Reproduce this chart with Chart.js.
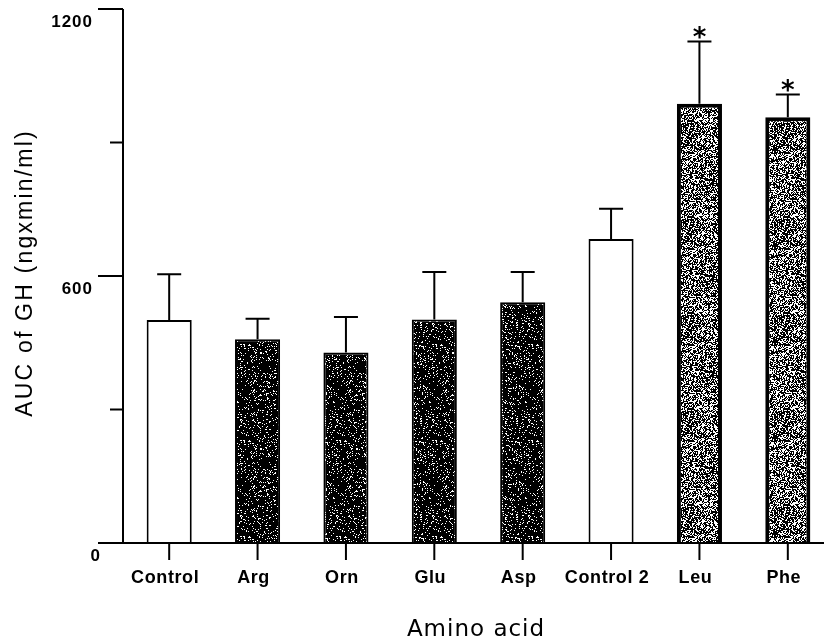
<!DOCTYPE html>
<html>
<head>
<meta charset="utf-8">
<title>AUC of GH by amino acid</title>
<script src="https://cdn.jsdelivr.net/npm/chart.js@4"></script>
<style>
  html, body { margin: 0; padding: 0; background: #fff; overflow: hidden; }
  #wrap { width: 824px; height: 640px; overflow: hidden; }
  canvas { display: block; }
</style>
</head>
<body>
<div id="wrap"><canvas id="aucChart" width="844" height="640"></canvas></div>
<script>
// --- Data ---
const categories = ['Control', 'Arg', 'Orn', 'Glu', 'Asp', 'Control 2', 'Leu', 'Phe'];
const aucMeans = [501, 458, 428, 502, 541, 683, 987, 957];
const aucErrors = [103, 46, 80, 107, 68, 68, 140, 51];
const significant = [false, false, false, false, false, false, true, true];
const yTicks = [0, 300, 600, 900, 1200];
const yTickLabels = ['0', '', '600', '', '1200'];

// --- Speckled fills (deterministic noise so every render looks the same) ---
function makeSpeckle(whiteShare, seed) {
    const size = 96;
    const c = document.createElement('canvas');
    c.width = size; c.height = size;
    const g = c.getContext('2d');
    g.fillStyle = '#000';
    g.fillRect(0, 0, size, size);
    g.fillStyle = '#fff';
    let s = seed;
    const next = () => { s = (s * 1103515245 + 12345) & 0x7fffffff; return s / 0x7fffffff; };
    for (let y = 0; y < size; y++) {
        for (let x = 0; x < size; x++) {
            if (next() < whiteShare) g.fillRect(x, y, 1, 1);
        }
    }
    return g.createPattern(c, 'repeat');
}
const darkFill = makeSpeckle(0.12, 7);
const lightFill = makeSpeckle(0.42, 19);

const fills = categories.map((name, i) => {
    if (name.startsWith('Control')) return '#ffffff';
    return significant[i] ? lightFill : darkFill;
});
const borders = categories.map((name, i) => significant[i] ? 4 : 2);

// --- Axes, error bars and labels drawn over the plot ---
const paperAxes = {
    id: 'paperAxes',
    afterDatasetsDraw(chart) {
        const { ctx, chartArea, scales } = chart;
        const x = scales.x, y = scales.y;
        const axisX = chartArea.left - 2;
        ctx.save();
        ctx.strokeStyle = '#000';
        ctx.fillStyle = '#000';
        ctx.lineWidth = 2;

        // y axis line
        ctx.beginPath();
        ctx.moveTo(axisX, y.getPixelForValue(1200));
        ctx.lineTo(axisX, y.getPixelForValue(0));
        ctx.stroke();

        // y ticks: long where labelled, short otherwise
        ctx.font = 'bold 17px "Liberation Sans", Arial, sans-serif';
        ctx.letterSpacing = '1px';
        ctx.textAlign = 'right';
        ctx.textBaseline = 'middle';
        yTicks.forEach((v, i) => {
            const py = y.getPixelForValue(v);
            const len = yTickLabels[i] ? 25 : 13;
            ctx.beginPath();
            ctx.moveTo(axisX - len, py);
            ctx.lineTo(axisX, py);
            ctx.stroke();
            if (!yTickLabels[i]) return;
            const lx = v === 0 ? axisX - 22 : axisX - 30;
            ctx.fillText(yTickLabels[i], lx, py + 13);
        });

        // x axis line
        const base = y.getPixelForValue(0);
        ctx.beginPath();
        ctx.moveTo(axisX, base);
        ctx.lineTo(chart.width, base);
        ctx.stroke();

        // category ticks and labels (labels sit a little left of the tick)
        ctx.font = 'bold 18px "Liberation Sans", Arial, sans-serif';
        ctx.letterSpacing = '0.6px';
        ctx.textAlign = 'center';
        categories.forEach((name, i) => {
            const px = x.getPixelForValue(i);
            ctx.beginPath();
            ctx.moveTo(px, base);
            ctx.lineTo(px, base + 17);
            ctx.stroke();
            ctx.fillText(name, px - 4, base + 35);
        });

        // error bars (upper half only) and significance marks
        ctx.lineWidth = 2;
        aucMeans.forEach((m, i) => {
            const px = x.getPixelForValue(i);
            const top = y.getPixelForValue(m + aucErrors[i]);
            ctx.beginPath();
            ctx.moveTo(px, y.getPixelForValue(m));
            ctx.lineTo(px, top);
            ctx.moveTo(px - 12, top);
            ctx.lineTo(px + 12, top);
            ctx.stroke();
            if (significant[i]) {
                ctx.font = 'bold 26px "DejaVu Sans", sans-serif';
                ctx.letterSpacing = '0px';
                ctx.textBaseline = 'alphabetic';
                ctx.fillText('*', px, top + 5);
            }
        });

        // axis titles
        ctx.letterSpacing = '1px';
        ctx.textBaseline = 'alphabetic';
        ctx.font = '23px "DejaVu Sans", sans-serif';
        ctx.fillText('Amino acid', 476, 636);

        ctx.translate(26, 273);
        ctx.rotate(-Math.PI / 2);
        ctx.textBaseline = 'middle';
        ctx.font = '23px "Liberation Sans", Arial, sans-serif';
        ctx.letterSpacing = '2.2px';
        ctx.fillText('AUC of GH (ngxmin/ml)', 0, 0);
        ctx.restore();
    }
};

// --- Chart ---
const ctx = document.getElementById('aucChart').getContext('2d');
const aucChart = new Chart(ctx, {
    type: 'bar',
    data: {
        labels: categories,
        datasets: [{
            data: aucMeans,
            backgroundColor: fills,
            borderColor: '#000',
            borderWidth: borders,
            borderSkipped: 'bottom',
            barPercentage: 0.51,
            categoryPercentage: 1
        }]
    },
    options: {
        responsive: false,
        animation: false,
        layout: { padding: { left: 125, top: 9, right: 12, bottom: 97 } },
        plugins: { legend: { display: false }, tooltip: { enabled: false } },
        scales: {
            x: { display: false, offset: true },
            y: { display: false, min: 0, max: 1200 }
        }
    },
    plugins: [paperAxes]
});
</script>
</body>
</html>
